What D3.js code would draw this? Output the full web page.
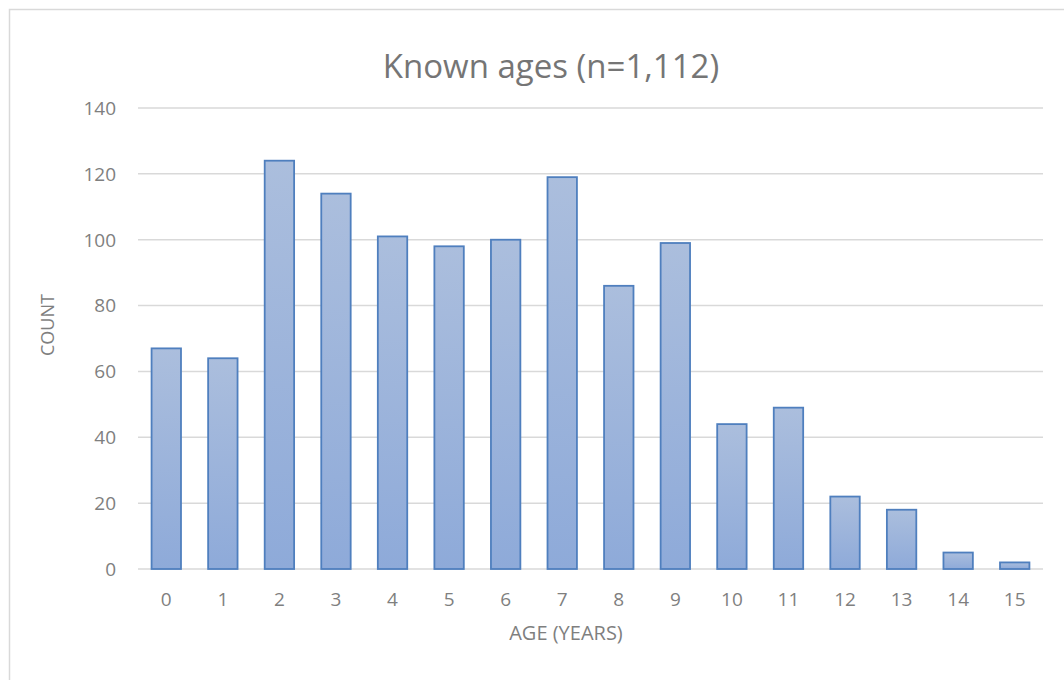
<!DOCTYPE html>
<meta charset="utf-8">
<script src="https://d3js.org/d3.v7.min.js"></script>
<style>
  body { margin: 0; background: #fff; }
  text { font-family: "Open Sans", "Liberation Sans", sans-serif; }
</style>
<body>
<div id="canvas"></div>
<script>
  // data
  var ages = ["0","1","2","3","4","5","6","7","8","9","10","11","12","13","14","15"];
  var counts = [67, 64, 124, 114, 101, 98, 100, 119, 86, 99, 44, 49, 22, 18, 5, 2];
  var yTicks = [0, 20, 40, 60, 80, 100, 120, 140];
  var title = "Known ages (n=1,112)";

  var width = 1064, height = 680;
  var svg = d3.select("#canvas").append("svg")
      .attr("width", width).attr("height", height);

  // chart frame
  svg.append("rect")
      .attr("x", 9.5).attr("y", 9.5)
      .attr("width", 1070).attr("height", 690)
      .attr("fill", "#fff").attr("stroke", "#d9d9d9").attr("stroke-width", 1.5);

  var defs = svg.append("defs");
  var grad = defs.append("linearGradient").attr("id", "barGrad")
      .attr("x1", 0).attr("y1", 0).attr("x2", 0).attr("y2", 1);
  grad.append("stop").attr("offset", "0%").attr("stop-color", "#abbedd");
  grad.append("stop").attr("offset", "100%").attr("stop-color", "#8eaad9");

  var x = d3.scaleBand().domain(ages).range([138, 1043]).paddingInner(0.48).paddingOuter(0.24);
  var y = d3.scaleLinear().domain([0, 140]).range([569, 108]);

  // gridlines
  svg.append("g").selectAll("line")
      .data(yTicks).enter().append("line")
      .attr("x1", 138).attr("x2", 1043)
      .attr("y1", function(d) { return y(d); })
      .attr("y2", function(d) { return y(d); })
      .attr("stroke", "#d9d9d9").attr("stroke-width", 1.5);

  // y labels
  svg.append("g").selectAll("text")
      .data(yTicks).enter().append("text")
      .attr("x", 116)
      .attr("y", function(d) { return y(d); })
      .attr("dy", "0.36em")
      .attr("text-anchor", "end")
      .attr("font-size", 19)
      .attr("fill", "#7f7f7f")
      .text(function(d) { return d; });

  // bars
  svg.append("g").selectAll("rect")
      .data(counts).enter().append("rect")
      .attr("x", function(d, i) { return x(ages[i]); })
      .attr("y", function(d) { return y(d); })
      .attr("width", x.bandwidth())
      .attr("height", function(d) { return y(0) - y(d); })
      .attr("fill", "url(#barGrad)")
      .attr("stroke", "#4f7fbe").attr("stroke-width", 1.8);

  // x labels
  svg.append("g").selectAll("text")
      .data(ages).enter().append("text")
      .attr("x", function(d) { return x(d) + x.bandwidth() / 2; })
      .attr("y", 606)
      .attr("text-anchor", "middle")
      .attr("font-size", 19)
      .attr("fill", "#7f7f7f")
      .text(function(d) { return d; });

  // title
  svg.append("text")
      .attr("x", 551).attr("y", 78)
      .attr("text-anchor", "middle")
      .attr("font-size", 33)
      .attr("fill", "#757575")
      .text(title);

  // axis titles
  svg.append("text")
      .attr("x", 566).attr("y", 640)
      .attr("text-anchor", "middle")
      .attr("font-size", 20)
      .attr("fill", "#7f7f7f")
      .text("AGE (YEARS)");

  svg.append("text")
      .attr("transform", "translate(54,325) rotate(-90)")
      .attr("text-anchor", "middle")
      .attr("font-size", 18)
      .attr("fill", "#7f7f7f")
      .text("COUNT");
</script>
</body>
